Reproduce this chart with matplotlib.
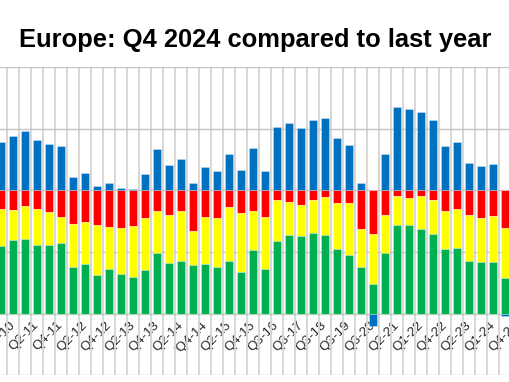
import numpy as np
import matplotlib
matplotlib.use("Agg")
import matplotlib.pyplot as plt

# quarter labels (only every other one is shown, the last tick has no bar in view)
quarters = ["Q3-10", "Q4-10", "Q1-11", "Q2-11", "Q3-11", "Q4-11", "Q1-12", "Q2-12",
            "Q3-12", "Q4-12", "Q1-13", "Q2-13", "Q3-13", "Q4-13", "Q1-14", "Q2-14",
            "Q3-14", "'Q4-14", "Q1-15", "Q2-15", "Q3-15", "Q4-15", "Q1-16", "Q3-16",
            "Q1-17", "Q3-17", "Q1-18", "Q3-18", "Q1-19", "Q3-19", "Q1-20", "Q3-20",
            "Q4-20", "Q2-21", "Q3-21", "Q1-22", "Q2-22", "Q4-22", "Q1-23", "Q2-23",
            "Q3-23", "Q1-24", "Q2-24", "Q4-24"]

# blue: positive above zero (negative values hang under the green)
blue = [39.3, 43.9, 48.5, 40.7, 37.9, 36.3, 11.1, 14.1, 3.8, 6.0, 1.6, 1.4, 13.6,
        33.3, 20.9, 25.7, 6.2, 19.0, 15.4, 29.5, 16.3, 34.7, 15.4, 51.5, 55.0, 50.9,
        56.9, 58.3, 42.3, 36.9, 5.7, -10.3, 29.3, 67.5, 65.9, 63.4, 56.9, 36.0, 38.8,
        22.5, 19.8, 21.4, -1.6]
# red / yellow / green are stacked downward from zero
red = [15.4, 16.3, 12.5, 15.2, 17.6, 21.4, 27.1, 26.0, 27.9, 29.8, 30.4, 28.7, 22.2,
       16.8, 19.8, 17.1, 32.8, 21.4, 22.5, 13.3, 18.2, 17.1, 21.4, 7.9, 9.2, 11.9,
       8.1, 5.4, 10.3, 10.3, 31.7, 35.2, 19.8, 4.3, 6.0, 4.6, 7.9, 16.8, 14.9, 20.1,
       22.2, 20.6, 30.6]
yellow = [29.3, 23.6, 26.6, 29.0, 26.8, 21.1, 34.7, 33.9, 40.9, 34.1, 37.4, 41.2, 42.3,
          33.6, 39.3, 40.1, 27.9, 38.2, 39.6, 44.2, 48.0, 31.2, 42.0, 32.8, 26.8, 25.2,
          26.8, 30.9, 37.1, 42.5, 30.1, 40.4, 31.2, 23.8, 22.2, 27.1, 27.4, 30.4, 31.7,
          37.4, 35.8, 37.7, 40.4]
green = [55.3, 60.2, 61.0, 55.8, 55.6, 57.5, 38.2, 40.1, 31.2, 36.0, 32.2, 30.1, 35.5,
         49.6, 40.9, 42.8, 39.3, 40.4, 37.9, 42.5, 33.9, 51.8, 36.6, 59.3, 64.0, 62.9,
         65.0, 63.7, 52.6, 47.2, 38.2, 24.4, 49.1, 71.8, 71.8, 68.3, 64.8, 52.8, 53.4,
         42.5, 42.0, 41.7, 29.0]

C_BLUE, C_RED, C_YEL, C_GRN = "#0070C0", "#FF0000", "#FFFF00", "#00B050"

plt.rcParams["font.family"] = ["Liberation Sans", "DejaVu Sans"]

fig = plt.figure(figsize=(5.10, 3.82), dpi=100)
# plot area is wider than the picture: the original is cut at both sides
W, H = 510, 382
x0, x1 = -1.5, 44.5
px0, px1 = 1 + 12 * x0, 1 + 12 * x1
ax = fig.add_axes([px0 / W, (H - 375.4) / H, (px1 - px0) / W, (375.4 - 67) / H])
# category axis sits on the -100 line (must come before tick styling)
ax.spines["bottom"].set_position(("data", -100))

x = np.arange(len(blue))
blue = np.array(blue); red = np.array(red); yellow = np.array(yellow); green = np.array(green)
kw = dict(width=0.64, edgecolor=(1, 1, 1, 0.35), linewidth=0.6, zorder=3)

ax.bar(x, -red, color=C_RED, **kw)
ax.bar(x, -yellow, bottom=-red, color=C_YEL, **kw)
ax.bar(x, -green, bottom=-red - yellow, color=C_GRN, **kw)
pos = np.where(blue > 0, blue, 0)
neg = np.where(blue < 0, blue, 0)
ax.bar(x, pos, color=C_BLUE, **kw)
ax.bar(x, neg, bottom=-red - yellow - green, color=C_BLUE, **kw)

ax.set_xlim(x0, x1)
ax.set_ylim(-150, 100)
ax.set_yticks([-150, -100, -50, 0, 50, 100])
ax.yaxis.grid(True, color="#C4C4C4", linewidth=1.0, zorder=0)
ax.set_xticks(np.arange(len(quarters)) - 0.5, minor=True)
ax.xaxis.grid(True, which="minor", color="#D6D6D6", linewidth=1.4, zorder=0)

tick_pos = np.arange(1, len(quarters), 2)
ax.set_xticks(tick_pos)
ax.set_xticklabels([quarters[i] for i in tick_pos], rotation=45, ha="right",
                   va="center", rotation_mode="anchor",
                   fontsize=9.6, color="#262626")
for s in ax.spines.values():
    s.set_visible(False)
ax.tick_params(axis="x", which="both", length=0, pad=7)
ax.tick_params(axis="y", which="both", length=0, labelleft=False)
ax.set_facecolor("none")

fig.text(0.5, 1 - 40 / H, "Europe: Q4 2024 compared to last year", ha="center",
         va="center", fontsize=18.4, fontweight="bold", color="black")

fig.savefig("out.png", dpi=100)
